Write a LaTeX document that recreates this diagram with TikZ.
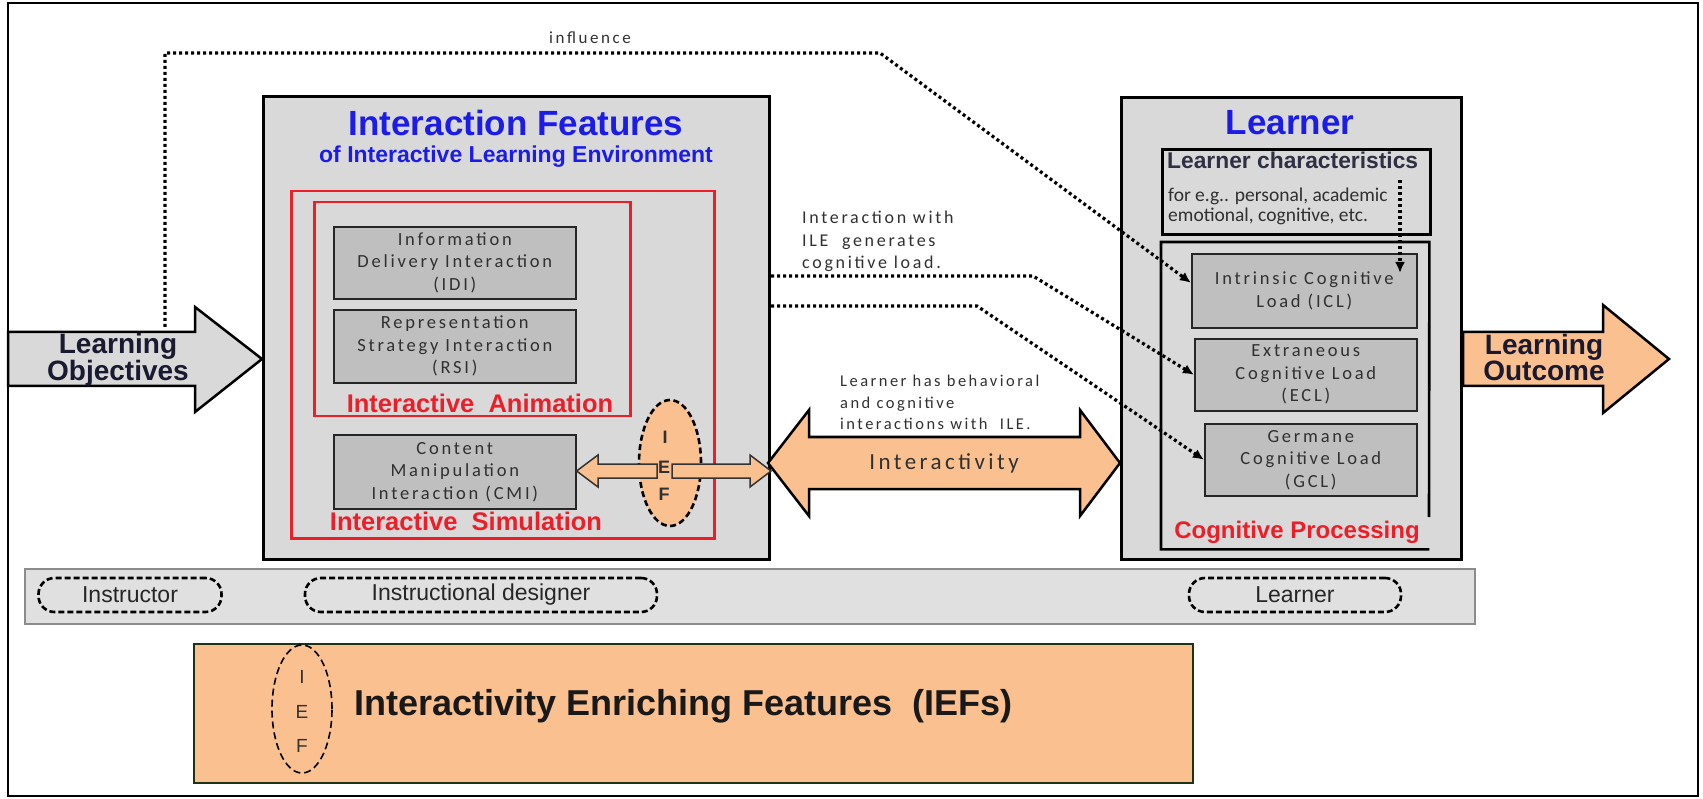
\documentclass[tikz,border=0pt]{standalone}
\usepackage{fontspec}
\setmainfont{Liberation Sans}
\newfontfamily\boxfont[LetterSpace=15]{Carlito}
\newfontfamily\plainfont{Carlito}
\usetikzlibrary{arrows.meta,shapes.geometric}
\definecolor{boxgray}{RGB}{217,217,217}
\definecolor{innergray}{RGB}{191,191,191}
\definecolor{peach}{RGB}{250,192,144}
\definecolor{ttlblue}{RGB}{28,28,232}
\definecolor{redc}{RGB}{236,30,40}
\definecolor{txtgray}{RGB}{48,48,48}
\definecolor{navy}{RGB}{25,25,48}
\definecolor{bargray}{RGB}{224,224,224}
\definecolor{legedge}{RGB}{30,50,20}
\begin{document}
\begin{tikzpicture}[x=1pt,y=-1pt,
  bigbox/.style={draw=black,line width=3pt,fill=boxgray,inner sep=0pt,anchor=north west},
  redbox/.style={draw=redc,line width=2.5pt,inner sep=0pt,anchor=north west},
  graybox/.style={draw=black!85,line width=1.6pt,fill=innergray,inner sep=0pt,anchor=north west},
  boxtext/.style={text=txtgray,font=\boxfont\fontsize{18.5}{22.5}\selectfont,align=center,inner sep=0pt},
  note/.style={text=txtgray,inner sep=0pt,anchor=base west},
  dotline/.style={line width=3.2pt,dash pattern=on 3pt off 3pt,line cap=butt,-{Latex[length=11pt,width=10pt]}},
  ttl/.style={text=ttlblue,font=\bfseries\fontsize{35}{40}\selectfont,inner sep=0pt},
  redlabel/.style={text=redc,font=\bfseries\fontsize{25.5}{28}\selectfont,inner sep=0pt},
  pill/.style={draw=black,line width=2.6pt,dash pattern=on 6pt off 3pt,rounded corners=16pt,fill=bargray,inner sep=0pt,minimum height=34pt,font=\fontsize{23}{26}\selectfont,text=black!85},
  fatarrow/.style={draw=black,line width=2.5pt,line join=miter},
  smallarrow/.style={draw=black!80,line width=1.5pt,fill=peach,line join=miter},
  iefell/.style={ellipse,draw=black,line width=2.6pt,dash pattern=on 6pt off 3.5pt,fill=peach,inner sep=0pt}
]
\useasboundingbox (0,0) rectangle (1703,799);
% outer frame
\draw[line width=1.6pt] (8,3) rectangle (1698,796);

% ---------- main boxes ----------
\node[bigbox,minimum width=506pt,minimum height=463pt] (IF) at (262,95) {};
\node[bigbox,minimum width=340pt,minimum height=462pt] (LB) at (1120,96) {};

\node[ttl] (IFt) at (516,123) {Interaction Features};
\node[text=ttlblue,font=\bfseries\fontsize{23}{26}\selectfont,inner sep=0pt] (IFs) at (516,157) {of Interactive Learning Environment};
\node[ttl] (LBt) at (1290,123) {Learner};

% red boxes
\node[redbox,minimum width=423pt,minimum height=347pt] (SIM) at (290,190) {};
\node[redbox,minimum width=316pt,minimum height=214pt] (ANI) at (313,201) {};

% gray interaction boxes
\node[graybox,minimum width=242pt,minimum height=72pt] (IDI) at (333,226) {};
\node[boxtext] at (IDI.center) {Information\\Delivery Interaction\\(IDI)};
\node[graybox,minimum width=242pt,minimum height=73pt] (RSI) at (333,309) {};
\node[boxtext] at (RSI.center) {Representation\\Strategy Interaction\\(RSI)};
\node[graybox,minimum width=242pt,minimum height=74pt] (CMI) at (333,434) {};
\node[boxtext] at (CMI.center) {Content\\Manipulation\\Interaction (CMI)};

\node[redlabel] (ANIl) at (480,403) {Interactive\ \ Animation};
\node[redlabel] (SIMl) at (466,521) {Interactive\ \ Simulation};

% IEF ellipse and small arrows
\node[iefell,minimum width=62pt,minimum height=126pt] (IEF) at (670,463) {};
\draw[smallarrow] (CMI.east |- 0,471) -- (598,455) -- (598,464) -- (657,464) -- (657,478) -- (598,478) -- (598,487) -- cycle;
\draw[smallarrow] (672,464) -- (750,464) -- (750,455) -- (IF.east |- 0,471) -- (750,487) -- (750,478) -- (672,478) -- cycle;
\node[text=txtgray,font=\bfseries\fontsize{18}{20}\selectfont,inner sep=0pt] (IEFi) at (665,437) {I};
\node[text=txtgray,font=\bfseries\fontsize{18}{20}\selectfont,inner sep=0pt] (IEFe) at (664,467) {E};
\node[text=txtgray,font=\bfseries\fontsize{18}{20}\selectfont,inner sep=0pt] (IEFf) at (664,494) {F};

% Interactivity double arrow
\draw[fatarrow,fill=peach] (768,463) -- (809,410) -- (809,437) -- (1080,437) -- (1080,410) -- (1120,463) -- (1080,516) -- (1080,489) -- (809,489) -- (809,516) -- cycle;
\node[text=txtgray,font=\boxfont\fontsize{23}{26}\selectfont,inner sep=0pt] (INT) at (944,463) {Interactivity};

% Learner side
\node[bigbox,line width=2.6pt,minimum width=268pt,minimum height=85pt] (LC) at (1161,148) {};
\node[note,text=navy!90,font=\bfseries\fontsize{22.8}{24}\selectfont] (LCt) at (1167,169) {Learner characteristics};
\node[note,font=\plainfont\fontsize{19.5}{21}\selectfont] (LC1) at (1168,202) {for e.g.. personal, academic};
\node[note,font=\plainfont\fontsize{19.5}{21}\selectfont] (LC2) at (1168,222) {emotional, cognitive, etc.};

\node[fill=boxgray,inner sep=0pt,anchor=north west,minimum width=268pt,minimum height=307pt] (CP) at (1161,242) {};
\draw[line width=2.6pt] (1429,517) -- (CP.north east) -- (CP.north west) -- (CP.south west) -- (CP.south east);
\node[graybox,minimum width=225pt,minimum height=74pt] (ICL) at (1191,253) {};
\node[boxtext] at (ICL.center) {Intrinsic Cognitive\\Load (ICL)};
\node[graybox,minimum width=222pt,minimum height=72pt] (ECL) at (1194,338) {};
\node[boxtext] at (ECL.center) {Extraneous\\Cognitive Load\\(ECL)};
\node[graybox,minimum width=212pt,minimum height=72pt] (GCL) at (1204,423) {};
\node[boxtext] at (GCL.center) {Germane\\Cognitive Load\\(GCL)};
\node[text=redc,font=\bfseries\fontsize{24}{26}\selectfont,inner sep=0pt] (CPl) at (1297,532) {Cognitive Processing};

% Learning objectives / outcome arrows
\draw[fatarrow,fill=boxgray] (8,332) -- (195,332) -- (195,307) -- (IF.west |- 0,359) -- (195,412) -- (195,386) -- (8,386) -- cycle;
\node[text=navy,font=\bfseries\fontsize{28}{26}\selectfont,align=center,inner sep=0pt] (LO) at (118,360) {Learning\\Objectives};
\draw[fatarrow,fill=peach] (LB.east |- 0,332) -- (1603,332) -- (1603,305) -- (1669,359) -- (1603,413) -- (1603,386) -- (LB.east |- 0,386) -- cycle;
\node[text=navy,font=\bfseries\fontsize{28}{26}\selectfont,align=center,inner sep=0pt] (OUT) at (1544,357) {Learning\\Outcome};

% ---------- dotted connectors ----------
\coordinate (inf0) at (165,327);
\coordinate (l1) at (IF.east |- 0,276);
\coordinate (l2) at (IF.east |- 0,306);
\coordinate (lc0) at (1400,180);
\coordinate (lc1) at (1400,273);
\draw[dotline] (inf0) -- (165,53) -- (880,53) -- (ICL.176);
\draw[dotline] (l1) -- (1033,276) -- (ECL.west);
\draw[dotline] (l2) -- (977,306) -- (GCL.west);
\draw[dotline] (lc0) -- (lc1);

\node[text=txtgray,font=\boxfont\fontsize{17}{20}\selectfont,inner sep=0pt] (infl) at (590,38) {influence};

\node[note,font=\boxfont\fontsize{18}{22}\selectfont] (n1a) at (802,224) {Interaction with};
\node[note,font=\boxfont\fontsize{18}{22}\selectfont] (n1b) at (802,247) {ILE\ \ generates};
\node[note,font=\boxfont\fontsize{18}{22}\selectfont] (n1c) at (802,269) {cognitive load.};

\node[note,font=\boxfont\fontsize{16.5}{20}\selectfont] (n2a) at (840,387) {Learner has behavioral};
\node[note,font=\boxfont\fontsize{16.5}{20}\selectfont] (n2b) at (840,409) {and cognitive};
\node[note,font=\boxfont\fontsize{16.5}{20}\selectfont] (n2c) at (840,430) {interactions with\ \ ILE.};

% ---------- roles bar ----------
\node[draw=black!45,line width=2pt,fill=bargray,inner sep=0pt,anchor=north west,minimum width=1450pt,minimum height=55pt] (BAR) at (24,568) {};
\node[pill,minimum width=183pt] (INS) at (130,595) {Instructor};
\node[pill,minimum width=352pt] (DES) at (481,595) {Instructional designer};
\node[pill,minimum width=212pt] (LRN) at (1295,595) {Learner};

% ---------- legend ----------
\node[draw=legedge,line width=2pt,fill=peach,inner sep=0pt,anchor=north west,minimum width=999pt,minimum height=139pt] (LEG) at (193,643) {};
\node[ellipse,draw=black,line width=1.6pt,dash pattern=on 7pt off 4pt,inner sep=0pt,minimum width=60pt,minimum height=128pt] (LEGe) at (302,709) {};
\node[text=black!80,font=\fontsize{19}{20}\selectfont,inner sep=0pt] (LEGi) at (302,677) {I};
\node[text=black!80,font=\fontsize{19}{20}\selectfont,inner sep=0pt] (LEGE) at (302,712) {E};
\node[text=black!80,font=\fontsize{19}{20}\selectfont,inner sep=0pt] (LEGf) at (302,746) {F};
\node[anchor=west,text=black!90,font=\bfseries\fontsize{36}{40}\selectfont,inner sep=0pt] (LEGt) at (354,706) {Interactivity Enriching Features\ \ (IEFs)};
\end{tikzpicture}
\end{document}
